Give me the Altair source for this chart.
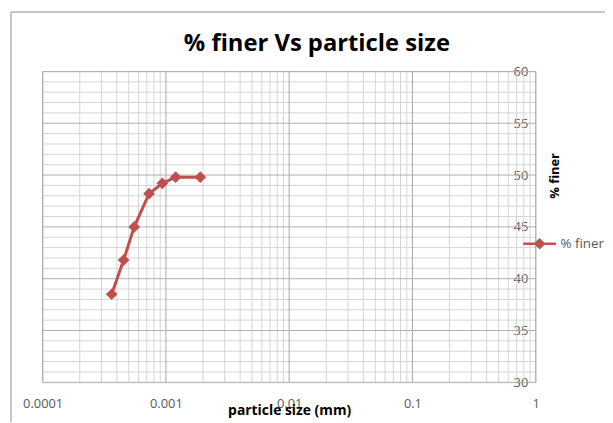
import altair as alt
import pandas as pd

# data
particle_size = [0.000363, 0.000454, 0.000553, 0.00073, 0.000935, 0.0012, 0.0019]
pct_finer = [38.5, 41.8, 45.0, 48.2, 49.2, 49.8, 49.8]
series_name = "% finer"
chart_title = "% finer Vs particle size"

x_major = [0.0001, 0.001, 0.01, 0.1, 1]
x_minor = [m * d for d in [0.0001, 0.001, 0.01, 0.1] for m in range(2, 10)]
y_major = [30, 35, 40, 45, 50, 55, 60]
y_minor = [v for v in range(30, 61) if v % 5 != 0]

RED = "#C0504D"
FONT = "Open Sans"

df = pd.DataFrame({"x": particle_size, "y": pct_finer, "s": [series_name] * len(pct_finer)})

xs = alt.Scale(type="log", domain=[0.0001, 1], nice=False)
ys = alt.Scale(domain=[30, 60], nice=False, zero=False)

xaxis = alt.Axis(
    values=x_major, format=".4~f", grid=False, domain=False, ticks=False, tickSize=0,
    labelFont=FONT, labelFontSize=13, labelColor="#595959", labelPadding=25,
    labelBaseline="alphabetic", labelFlush=False,
    title="particle size (mm)", titleFont=FONT, titleFontSize=14, titleFontWeight="bold",
    titleColor="#000000", titleBaseline="alphabetic", titleY=33,
)
yaxis = alt.Axis(
    orient="right", values=y_major, grid=False, domain=False, ticks=False, tickSize=0,
    labelFont=FONT, labelFontSize=13, labelColor="#595959", labelPadding=-8,
    labelAlign="right", labelBaseline="middle", labelFlush=False,
    title="% finer", titleFont=FONT, titleFontSize=13, titleFontWeight="bold",
    titleColor="#000000", titleAngle=270, titleX=19, titleY=105, titleBaseline="middle",
)

X = alt.X("x:Q", scale=xs, axis=xaxis, title="particle size (mm)")
Y = alt.Y("y:Q", scale=ys, axis=yaxis, title="% finer")

vminor = alt.Chart(pd.DataFrame({"x": x_minor})).mark_rule(color="#d4d4d4", strokeWidth=1).encode(x=X)
vmajor = alt.Chart(pd.DataFrame({"x": x_major})).mark_rule(color="#a6a6a6", strokeWidth=1).encode(x=X)
hminor = alt.Chart(pd.DataFrame({"y": y_minor})).mark_rule(color="#d4d4d4", strokeWidth=1).encode(y=Y)
hmajor = alt.Chart(pd.DataFrame({"y": y_major})).mark_rule(color="#b0b0b0", strokeWidth=1).encode(y=Y)

line = alt.Chart(df).mark_line(color=RED, strokeWidth=3).encode(x=X, y=Y)
points = alt.Chart(df).mark_point(shape="diamond", filled=True, size=140, opacity=1).encode(
    x=X, y=Y,
    color=alt.Color("s:N", scale=alt.Scale(range=[RED]), legend=alt.Legend(
        title=None, orient="none", legendX=484, legendY=156, padding=0,
        symbolType="M-1,0L1,0M-0.25,0L0,-0.25L0.25,0L0,0.25Z", symbolSize=1089,
        symbolStrokeColor=RED, symbolStrokeWidth=2.5, symbolOpacity=1,
        labelFont=FONT, labelFontSize=13.5, labelColor="#595959", labelOffset=3,
    )),
)

one = pd.DataFrame({"k": [0]})
title_mark = alt.Chart(one).mark_text(
    font=FONT, fontSize=24, fontWeight="bold", color="#000000", align="center", baseline="alphabetic"
).encode(text=alt.value(chart_title), x=alt.value(277), y=alt.value(-21))

frame_h = alt.Chart(one).mark_rule(color="#8c8c8c", strokeWidth=1).encode(
    x=alt.value(-32), x2=alt.value(610), y=alt.value(-60))
frame_v = alt.Chart(one).mark_rule(color="#8c8c8c", strokeWidth=1).encode(
    x=alt.value(-32), y=alt.value(-60), y2=alt.value(400))

chart = alt.layer(vminor, hminor, vmajor, hmajor, line, points, title_mark, frame_h, frame_v).properties(
    width=498, height=314,
    autosize=alt.AutoSizeParams(type="none"),
    padding={"left": 35, "top": 62, "right": 70, "bottom": 38},
).configure_view(stroke=None).configure(background="#ffffff")

chart.save("out.html", embed_options={"renderer": "svg", "actions": False})
